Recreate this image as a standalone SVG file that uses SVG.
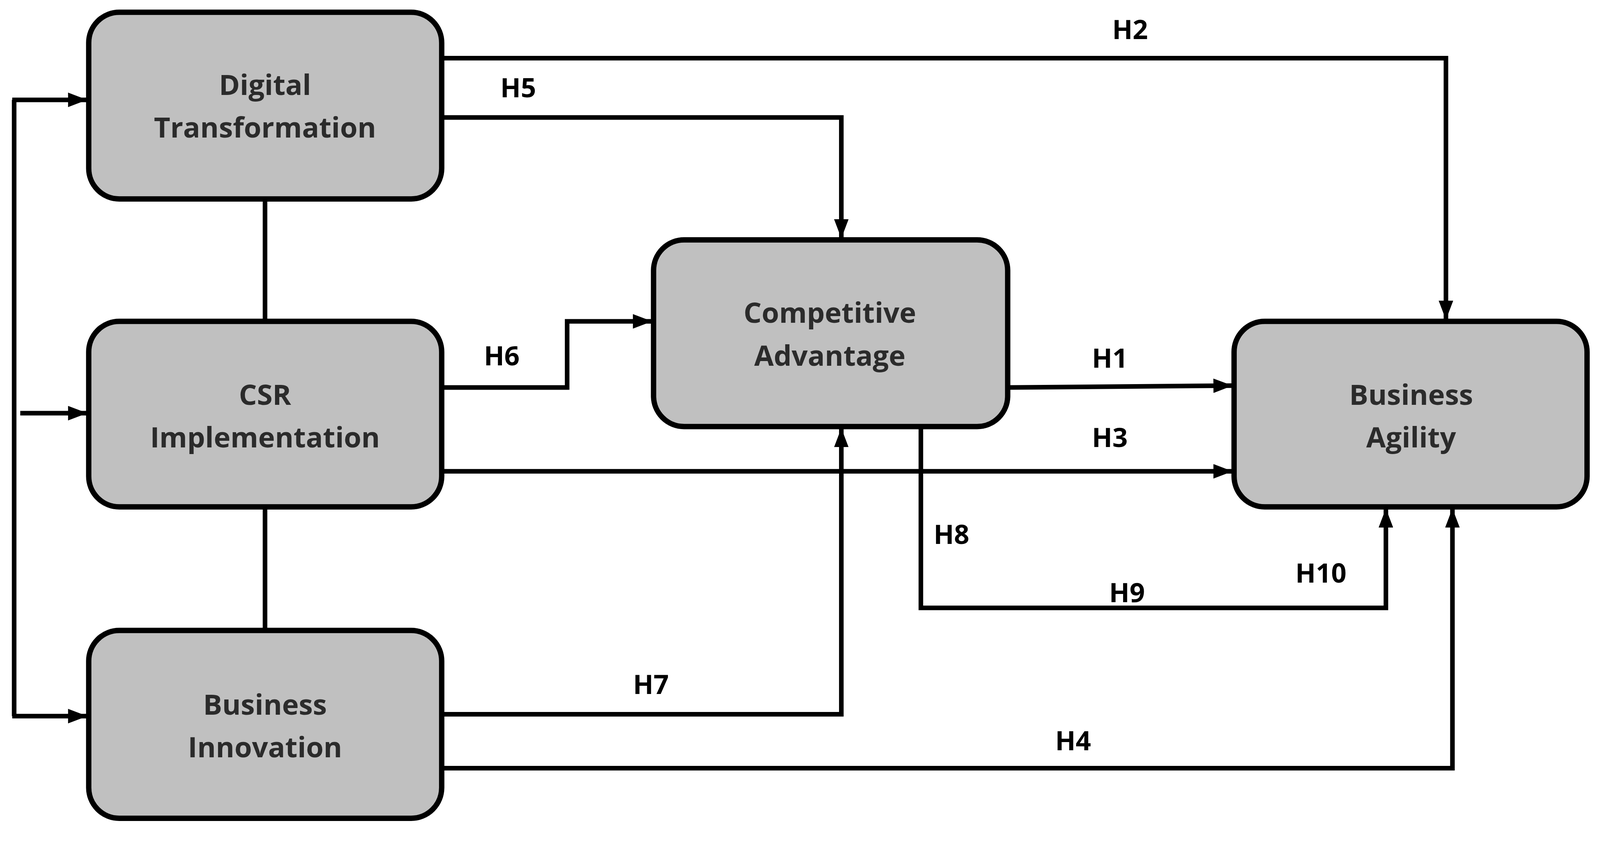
<svg xmlns="http://www.w3.org/2000/svg" width="4171" height="2165" viewBox="0 0 4171 2165">
<style>
.box{fill:#c0c0c0;stroke:#000;stroke-width:14}
.t{font-family:"Open Sans","Liberation Sans",sans-serif;font-weight:bold;font-size:74px;fill:#2b2b2b;text-anchor:middle}
.l{font-family:"Open Sans","Liberation Sans",sans-serif;font-weight:bold;font-size:70px;fill:#000;text-anchor:middle}
.c{fill:none;stroke:#000;stroke-width:12}
</style>
<defs>
<marker id="a" markerUnits="userSpaceOnUse" markerWidth="50" markerHeight="38" refX="48" refY="19" orient="auto">
<path d="M0,0 L50,19 L0,38 Z" fill="#000"/>
</marker>
</defs>
<rect width="4171" height="2165" fill="#fff"/>
<g transform="scale(0.979)">
<g id="connectors">
<path class="c" d="M37,261 V1872"/>
<path class="c" d="M32,261 H226" marker-end="url(#a)"/>
<path class="c" d="M53,1080 H226" marker-end="url(#a)"/>
<path class="c" d="M32,1872 H226" marker-end="url(#a)"/>
<path class="c" d="M693,520 V840"/>
<path class="c" d="M693,1325 V1648"/>
<path class="c" d="M1155,152 H3781 V834" marker-end="url(#a)"/>
<path class="c" d="M1155,307 H2200 V621" marker-end="url(#a)"/>
<path class="c" d="M1155,1013 H1483 V840 H1703" marker-end="url(#a)"/>
<path class="c" d="M2635,1013 L3221,1008" marker-end="url(#a)"/>
<path class="c" d="M1155,1232 H3221" marker-end="url(#a)"/>
<path class="c" d="M2408,1115 V1589 H3624 V1331" marker-end="url(#a)"/>
<path class="c" d="M1155,1867 H2200 V1121" marker-end="url(#a)"/>
<path class="c" d="M1155,2008 H3798 V1331" marker-end="url(#a)"/>
<text class="l" x="2955" y="102">H2</text>
<text class="l" x="1355" y="254">H5</text>
<text class="l" x="1312" y="955">H6</text>
<text class="l" x="2902" y="961">H1</text>
<text class="l" x="2902" y="1169">H3</text>
<text class="l" x="2488" y="1422">H8</text>
<text class="l" x="2947" y="1574">H9</text>
<text class="l" x="3454" y="1523">H10</text>
<text class="l" x="1702" y="1814">H7</text>
<text class="l" x="2806" y="1961">H4</text>
</g>
<g id="dt"><rect class="box" x="232" y="32" width="923" height="488" rx="80"/>
<text class="t" x="693" y="248">Digital</text><text class="t" x="693" y="360">Transformation</text></g>
<g id="csr"><rect class="box" x="232" y="840" width="923" height="485" rx="80"/>
<text class="t" x="693" y="1058">CSR</text><text class="t" x="693" y="1170">Implementation</text></g>
<g id="bi"><rect class="box" x="232" y="1648" width="923" height="491" rx="80"/>
<text class="t" x="693" y="1868">Business</text><text class="t" x="693" y="1980">Innovation</text></g>
<g id="ca"><rect class="box" x="1709" y="627" width="926" height="488" rx="80"/>
<text class="t" x="2170" y="844">Competitive</text><text class="t" x="2170" y="956">Advantage</text></g>
<g id="ba"><rect class="box" x="3227" y="840" width="923" height="485" rx="80"/>
<text class="t" x="3690" y="1058">Business</text><text class="t" x="3690" y="1170">Agility</text></g>
</g>
</svg>
